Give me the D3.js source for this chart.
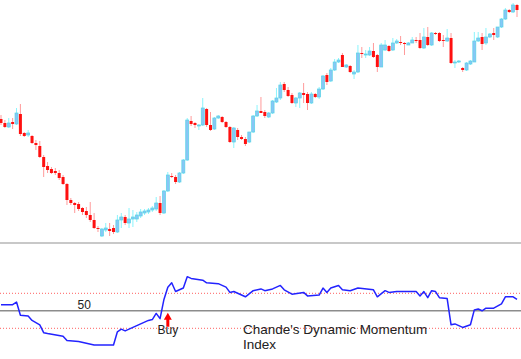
<!DOCTYPE html>
<html>
<head>
<meta charset="utf-8">
<script src="https://cdn.jsdelivr.net/npm/d3@7"></script>
<style>
  body { margin: 0; background: #fff; }
  svg { display: block; font-family: "Liberation Sans", Arial, sans-serif; }
</style>
</head>
<body>
<div id="chart"></div>
<script>
// price candles, one entry per bar (left to right)
var opens = [131,127,123,128,126,136,117,115,114,107, 104,93,84,81,79,77,73,66,50,47,
  46,42,39,35,30,22,14,20,21,22, 18,30,33,27,31,31,34,37,38,40,
  41,47,37,59,74,73,68,77,90,129, 127,124,125,141,125,121,132,133,128,123,
  108,120,113,111,108,118,134,139,138,133, 137,148,152,166,160,155,147,152,157,156,
  147,156,153,161,175,169,180,188,195,183, 184,176,178,197,195,195,199,195,183,200,
  204,200,207,208,207,205,207,210,210,202, 213,205,217,217,210,209,212,187,188,182,
  180,186,188,209,213,207,213,217,213,223, 231,240,238,245];
var highs = [135,130,132,132,142,146,118,120,115,110, 109,95,88,83,82,80,75,67,52,48,
  48,43,43,48,37,24,22,27,27,25, 35,37,35,42,40,38,41,41,42,44,
  53,54,60,78,77,75,78,91,132,134, 128,126,152,142,138,133,135,134,129,124,
  123,122,115,113,118,135,145,153,140,138, 150,162,168,168,163,157,153,158,167,158,
  158,157,163,175,177,182,191,192,197,186, 185,180,205,203,200,203,207,196,207,210,
  205,212,211,214,208,208,213,213,217,222, 223,218,218,218,215,221,217,190,190,183,
  188,190,218,218,217,222,217,222,223,232, 242,241,247,246];
var lows = [125,122,122,121,125,114,113,113,106,100, 92,73,77,76,75,70,65,45,45,37,
  39,35,32,28,21,18,13,18,14,16, 17,22,25,22,23,28,32,35,36,38,
  39,35,36,58,72,66,67,76,89,124, 122,120,124,123,119,120,131,127,122,107,
  102,110,110,104,107,117,133,137,132,132, 136,147,150,158,153,146,143,142,147,140,
  146,152,151,160,165,168,179,187,183,182, 177,171,177,192,192,194,192,178,183,199,
  198,199,206,205,195,205,207,207,201,201, 204,204,215,208,203,208,186,182,187,178,
  179,185,188,208,200,205,212,210,212,222, 230,237,237,233];
var closes = [127,123,127,126,137,116,114,117,107,105, 93,83,80,77,77,72,66,50,47,45,
  41,38,35,30,22,21,21,22,19,18, 30,33,27,31,33,35,38,39,40,42,
  47,37,59,75,73,68,77,90,130,126, 125,125,142,125,120,132,134,128,123,108,
  122,113,111,106,118,134,139,137,134,137, 149,152,165,160,154,147,152,157,155,147,
  156,153,161,174,168,180,188,190,183,185, 178,178,197,196,196,199,193,183,205,205,
  199,207,209,207,206,207,210,209,202,213, 205,217,216,209,209,212,187,188,189,180,
  187,189,209,212,206,213,216,215,223,231, 240,238,245,240];

// Chande's Dynamic Momentum Index, read at these bar positions
var dmiBar = [0,3,4,5,7,8,10,11,12,16,17,20,24,29,30,31,32,34,36,38,39,40,41,42,43,44,45,46,47,48,49,
  52,53,56,58,59,60,62,63,65,67,68,70,72,73,75,78,79,82,83,84,85,87,88,90,92,96,97,99,100,102,
  107,108,109,110,111,112,113,115,116,117,119,121,122,123,124,125,127,129,130,132,133];
var dmiValue = [57,57,60,45,44,39,34,25,24,21,16,15,11,11,26,29,27,31,35,39,40,47,41,63,77,82,72,74,76,89,87,
  85,82,81,77,71,72,68,66,73,75,73,75,79,74,69,71,67,68,76,71,76,79,74,73,76,74,66,73,71,72,
  72,67,72,65,73,72,65,64,34,35,31,34,51,52,50,53,53,58,66,66,63];

var dmiLevels = [30, 50, 70];
var midLabel = "50";
var buyBar = 43;
var buyLabel = "Buy";
var titleLines = ["Chande's Dynamic Momentum", "Index"];

var width = 521, height = 359;
var N = opens.length;

var svg = d3.select("#chart").append("svg")
  .attr("width", width).attr("height", height);

var x = d3.scalePoint().domain(d3.range(N)).range([1, 517]);
var yPrice = d3.scaleLinear().domain([0, 250]).range([250, 0]);
var yDmi = d3.scaleLinear().domain([30, 70]).range([328.3, 293.3]);

// candles
var bars = svg.append("g").attr("class", "candles")
  .selectAll("g").data(d3.range(N)).enter().append("g");

bars.append("line")
  .attr("x1", function(i){ return x(i); })
  .attr("x2", function(i){ return x(i); })
  .attr("y1", function(i){ return yPrice(highs[i]); })
  .attr("y2", function(i){ return yPrice(lows[i]); })
  .attr("stroke", function(i){ return closes[i] < opens[i] ? "#ff9a9a" : "#8af4fc"; })
  .attr("stroke-width", 1);

bars.append("rect")
  .attr("x", function(i){ return x(i) - 1.5; })
  .attr("width", 3)
  .attr("y", function(i){ return yPrice(Math.max(opens[i], closes[i])); })
  .attr("height", function(i){ return Math.max(1, Math.abs(yPrice(opens[i]) - yPrice(closes[i]))); })
  .attr("fill", function(i){ return closes[i] < opens[i] ? "#ff1010" : "#88c6f6"; })
  .attr("stroke", function(i){ return closes[i] < opens[i] ? "none" : "#58d4e6"; })
  .attr("stroke-width", 0.7);

// panel separator
svg.append("line")
  .attr("x1", 0).attr("x2", width)
  .attr("y1", 243).attr("y2", 243)
  .attr("stroke", "#c8c8c8").attr("stroke-width", 2);

// level lines
svg.append("g").selectAll("line").data(dmiLevels).enter().append("line")
  .attr("x1", 0).attr("x2", width)
  .attr("y1", function(d){ return yDmi(d); })
  .attr("y2", function(d){ return yDmi(d); })
  .attr("stroke", function(d){ return d === 50 ? "#8c8c8c" : "#ff6060"; })
  .attr("stroke-width", function(d){ return d === 50 ? 1.4 : 1; })
  .attr("stroke-dasharray", function(d){ return d === 50 ? null : "1,2"; });

// indicator line
var line = d3.line()
  .x(function(d, k){ return x(dmiBar[k]); })
  .y(function(d){ return yDmi(d); });

svg.append("path")
  .datum(dmiValue)
  .attr("d", line)
  .attr("fill", "none")
  .attr("stroke", "#2323ff")
  .attr("stroke-width", 1.5)
  .attr("stroke-linejoin", "round");

// texts
svg.append("text")
  .attr("x", x(20) - 1).attr("y", yDmi(50) - 2)
  .attr("font-size", "12px").attr("fill", "#222")
  .text(midLabel);

var bx = x(buyBar);
svg.append("path")
  .attr("d", "M" + bx + "," + (yDmi(50) + 2) + " l4,7 h-2.5 v7 h-3 v-7 h-2.5 z")
  .attr("fill", "#ff0000");

svg.append("text")
  .attr("x", bx).attr("y", 334)
  .attr("text-anchor", "middle")
  .attr("font-size", "12px").attr("fill", "#222")
  .text(buyLabel);

svg.append("g").selectAll("text").data(titleLines).enter().append("text")
  .attr("x", 243)
  .attr("y", function(d, k){ return 334 + k * 15; })
  .attr("font-size", "13.5px").attr("fill", "#222")
  .text(function(d){ return d; });
</script>
</body>
</html>
